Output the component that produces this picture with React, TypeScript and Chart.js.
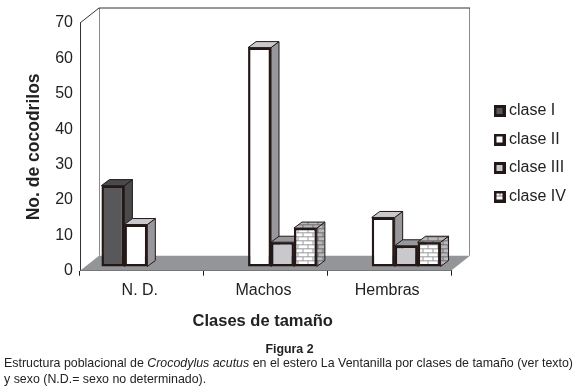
import React, { useEffect, useRef } from "react";
import { Chart, registerables } from "chart.js";

Chart.register(...registerables);

const categories = ["N. D.", "Machos", "Hembras"];
const seriesNames = ["clase I", "clase II", "clase III", "clase IV"];
const claseI = [23, null, null];
const claseII = [12, 62, 14];
const claseIII = [null, 7, 6];
const claseIV = [null, 11, 7];
const yTitle = "No. de cocodrilos";
const xTitle = "Clases de tamaño";

const INK = "#231815";
const TEXT = "#222222";
const FONT = "'Liberation Sans', Arial, sans-serif";

const WALL_DX = 19;
const WALL_DY = 15;
const BAR_SHIFT_X = 5.5;
const BAR_SHIFT_Y = -3.7;
const BAR_DX = 8;
const BAR_DY = 6;

function brick(bg: string, line: string) {
  const c = document.createElement("canvas");
  c.width = 10;
  c.height = 8;
  const x = c.getContext("2d")!;
  x.fillStyle = bg;
  x.fillRect(0, 0, 10, 8);
  x.fillStyle = line;
  x.fillRect(0, 0, 10, 1);
  x.fillRect(0, 4, 10, 1);
  x.fillRect(2, 0, 1, 4);
  x.fillRect(7, 4, 1, 4);
  return c;
}

function poly(ctx: CanvasRenderingContext2D, pts: number[][], fill: any, stroke?: string, lw = 1) {
  ctx.beginPath();
  pts.forEach((p, i) => (i ? ctx.lineTo(p[0], p[1]) : ctx.moveTo(p[0], p[1])));
  ctx.closePath();
  ctx.fillStyle = fill;
  ctx.fill();
  if (stroke) {
    ctx.strokeStyle = stroke;
    ctx.lineWidth = lw;
    ctx.stroke();
  }
}

export default function App() {
  const ref = useRef<HTMLCanvasElement>(null);
  useEffect(() => {
    const ctx = ref.current!.getContext("2d")!;
    const bricks = ctx.createPattern(brick("#ffffff", "#9a9a9e"), "repeat")!;
    const bricksSide = ctx.createPattern(brick("#b9b9bd", "#6f6f73"), "repeat")!;
    const fronts: any[] = ["#58585a", "#ffffff", "#c9c9cd", bricks];
    const sides: any[] = ["#4a4a4c", "#98989c", "#98989c", bricksSide];
    const tops: any[] = ["#4a4a4c", "#c9c9cd", "#98989c", bricksSide];

    const swatch = (fill: any) => {
      const c = document.createElement("canvas");
      c.width = 12;
      c.height = 12;
      const x = c.getContext("2d")!;
      x.fillStyle = INK;
      x.fillRect(0, 0, 12, 12);
      x.fillStyle = fill === bricks ? "#ffffff" : fill;
      x.fillRect(3, 3, 6, 6);
      if (fill === bricks) {
        x.fillStyle = "#8a8a8e";
        x.fillRect(3, 5, 6, 1);
        x.fillRect(6, 3, 1, 2);
      }
      return c;
    };

    const scene = {
      id: "scene",
      afterLayout(chart: any) {
        const lg = chart.legend;
        lg.left = 485.5;
        lg.top = 90.5;
        lg.right = 578;
        lg.bottom = 260;
        lg.width = 92.5;
        lg.height = 169.5;
      },
      beforeDatasetsDraw(chart: any) {
        const { left: l, right: r, top: t, bottom: b } = chart.chartArea;
        const c = chart.ctx;
        c.save();
        // Walls and floor
        poly(c, [[l + WALL_DX, t - WALL_DY], [r + WALL_DX, t - WALL_DY], [r + WALL_DX, b - WALL_DY], [l + WALL_DX, b - WALL_DY]], "#ffffff");
        c.lineWidth = 1;
        c.strokeStyle = "#8a8a8e";
        c.beginPath();
        c.moveTo(l + WALL_DX + 0.5, t - WALL_DY);
        c.lineTo(l + WALL_DX + 0.5, b - WALL_DY);
        c.moveTo(r + WALL_DX - 0.5, t - WALL_DY);
        c.lineTo(r + WALL_DX - 0.5, b - WALL_DY);
        c.stroke();
        c.strokeStyle = "#333333";
        c.beginPath();
        c.moveTo(l, t);
        c.lineTo(l + WALL_DX, t - WALL_DY);
        c.lineTo(r + WALL_DX, t - WALL_DY);
        c.stroke();
        poly(c, [[l, b], [l + WALL_DX, b - WALL_DY], [r + WALL_DX, b - WALL_DY], [r, b]], "#939598");
        // Bars, left to right so each front covers its neighbour's side face
        c.translate(BAR_SHIFT_X, BAR_SHIFT_Y);
        chart.data.datasets.forEach((_: any, di: number) => {
          const meta = chart.getDatasetMeta(di);
          meta.data.forEach((el: any, i: number) => {
            if (chart.data.datasets[di].data[i] == null) return;
            const hw = el.width / 2;
            const x0 = el.x - hw;
            const x1 = el.x + hw;
            const y0 = el.y;
            const y1 = el.base;
            poly(c, [[x1, y0], [x1 + BAR_DX, y0 - BAR_DY], [x1 + BAR_DX, y1 - BAR_DY], [x1, y1]], sides[di], INK, 1);
            poly(c, [[x0, y0], [x0 + BAR_DX, y0 - BAR_DY], [x1 + BAR_DX, y0 - BAR_DY], [x1, y0]], tops[di], INK, 1);
            el.draw(c, chart.chartArea);
          });
        });
        c.restore();
        return false;
      },
      afterDraw(chart: any) {
        const c = chart.ctx;
        c.save();
        c.fillStyle = TEXT;
        c.font = `bold 16.5px ${FONT}`;
        c.textAlign = "center";
        c.textBaseline = "middle";
        c.fillText(xTitle, 262.7, 321.5);
        c.restore();
      },
    };

    const chart = new Chart(ref.current!, {
      type: "bar",
      data: {
        labels: categories,
        datasets: [claseI, claseII, claseIII, claseIV].map((d, i) => ({
          label: seriesNames[i],
          data: d,
          backgroundColor: fronts[i],
          borderColor: INK,
          borderWidth: 2.5,
          borderSkipped: false,
          categoryPercentage: 0.742,
          barPercentage: 1,
        })),
      },
      options: {
        responsive: false,
        animation: false,
        layout: { padding: { left: 0, top: 23, right: 127, bottom: 56 } },
        plugins: {
          tooltip: { enabled: false },
          legend: {
            position: "chartArea",
            align: "start",
            labels: {
              usePointStyle: true,
              pointStyleWidth: 3,
              boxHeight: 12,
              padding: 12.5,
              color: TEXT,
              font: { family: FONT, size: 16 },
              generateLabels: () =>
                seriesNames.map((n, i) => ({
                  text: n,
                  pointStyle: swatch(fronts[i]),
                  fillStyle: fronts[i],
                  strokeStyle: INK,
                  lineWidth: 0,
                  datasetIndex: i,
                  fontColor: TEXT,
                })),
            },
          },
        },
        scales: {
          x: {
            offset: true,
            afterFit(s: any) {
              s.height = 59.3;
            },
            grid: { offset: true, drawOnChartArea: false, drawTicks: true, tickLength: 5, color: INK, lineWidth: 1 },
            border: { color: INK, width: 1 },
            ticks: { color: TEXT, padding: 5, maxRotation: 0, labelOffset: -2, font: { family: FONT, size: 16 } },
          },
          y: {
            min: 0,
            max: 70,
            afterFit(s: any) {
              s.width = 80;
            },
            grid: { drawOnChartArea: false, drawTicks: false },
            border: { color: "#333333", width: 1 },
            title: { display: true, text: yTitle, color: TEXT, padding: { top: 24, bottom: 0 }, font: { family: FONT, size: 17.5, weight: "bold" } },
            ticks: { stepSize: 10, color: TEXT, padding: 7, font: { family: FONT, size: 16 } },
          },
        },
      },
      plugins: [scene],
    } as any);
    return () => chart.destroy();
  }, []);

  const cap: React.CSSProperties = { position: "absolute", whiteSpace: "nowrap", font: `12.4px ${FONT}`, color: TEXT, lineHeight: "14px" };
  return (
    <div style={{ position: "fixed", left: 0, top: 0, width: 578, height: 386, background: "#fff", overflow: "hidden" }}>
      <canvas ref={ref} width={578} height={386} style={{ display: "block" }} />
      <div style={{ ...cap, left: 0, width: 579, top: 342, textAlign: "center", fontWeight: "bold" }}>Figura 2</div>
      <div style={{ ...cap, left: 4, top: 356 }}>
        Estructura poblacional de <i>Crocodylus acutus</i> en el estero La Ventanilla por clases de tamaño (ver texto)
      </div>
      <div style={{ ...cap, left: 4, top: 372 }}>y sexo (N.D.= sexo no determinado).</div>
    </div>
  );
}
